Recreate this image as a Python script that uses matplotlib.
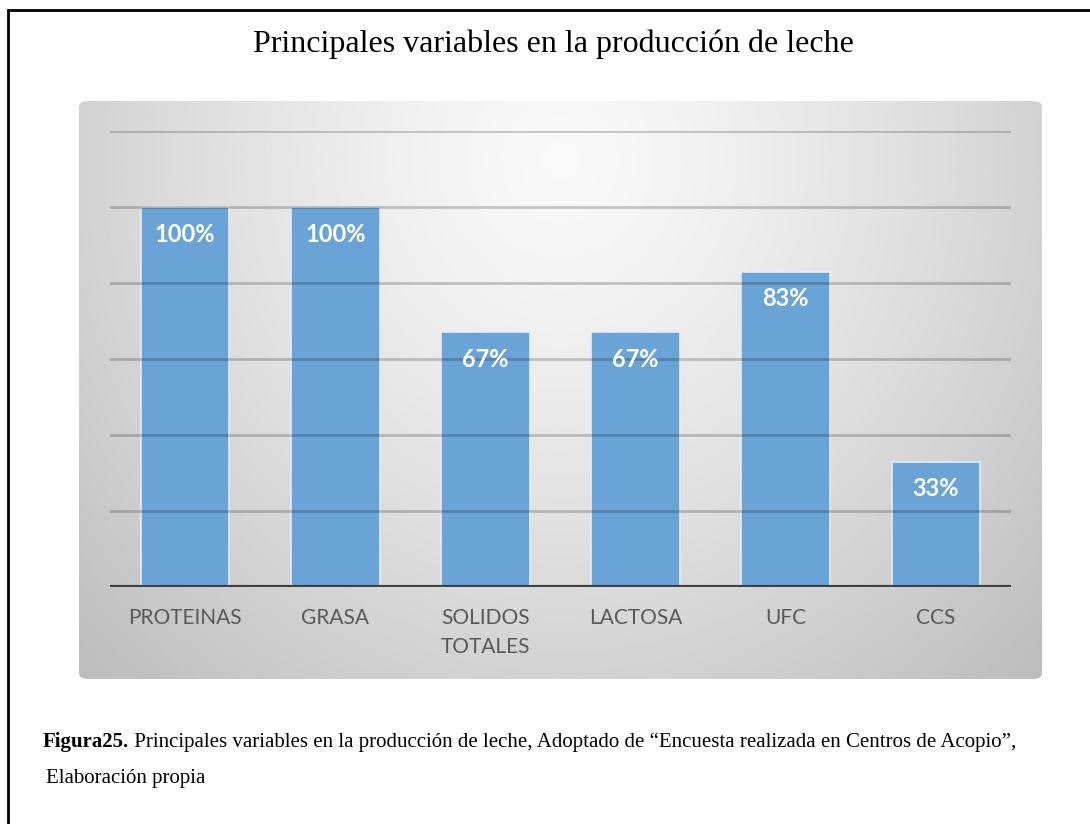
import numpy as np
import matplotlib.pyplot as plt
from matplotlib.patches import Rectangle, FancyBboxPatch

# Data
categories = ['PROTEINAS', 'GRASA', 'SOLIDOS\nTOTALES', 'LACTOSA', 'UFC', 'CCS']
values = [1.00, 1.00, 0.67, 0.67, 0.83, 0.33]
value_labels = ['100%', '100%', '67%', '67%', '83%', '33%']
grid_levels = [0.2, 0.4, 0.6, 0.8, 1.0, 1.2]

title = 'Principales variables en la producción de leche'
caption_bold = 'Figura25.'
caption_rest = (' Principales variables en la producción de leche, Adoptado de '
                '\u201cEncuesta realizada en Centros de Acopio\u201d,')
caption_line2 = 'Elaboración propia'

W, H = 1090, 824
fig = plt.figure(figsize=(W / 100, H / 100), dpi=100)
fig.patch.set_facecolor('white')


def fx(px):
    return px / W


def fy(py):
    return 1 - py / H


# outer frame (open to the right and bottom, like the cropped page)
fig.patches.append(Rectangle((fx(8), fy(900)), fx(1200), fy(10) - fy(900),
                             transform=fig.transFigure, fill=False,
                             edgecolor='black', linewidth=2))

# chart area with a radial grey gradient
bg_left, bg_right, bg_top, bg_bottom = 79, 1042, 101, 679
bg_ax = fig.add_axes([fx(bg_left), fy(bg_bottom), fx(bg_right - bg_left),
                      fy(bg_top) - fy(bg_bottom)])
bg_ax.set_axis_off()
gx, gy = np.meshgrid(np.linspace(0, 1, 400), np.linspace(0, 1, 300))
dist = np.sqrt(((gx - 0.5) / 0.5) ** 2 + ((gy - 0.1) / 0.9) ** 2) / np.sqrt(2)
shade = 0.975 - 0.24 * dist ** 1.3
im = bg_ax.imshow(shade, cmap='gray', vmin=0, vmax=1, aspect='auto',
                  extent=[0, 1, 1, 0])
box = FancyBboxPatch((0, 0), 1, 1, boxstyle='round,pad=0,rounding_size=0.01',
                     transform=bg_ax.transAxes, facecolor='none', edgecolor='none')
bg_ax.add_patch(box)
im.set_clip_path(box)

# plot area
ax = fig.add_axes([fx(110), fy(587), fx(1011 - 110), fy(131) - fy(587)])
ax.patch.set_alpha(0)
x = np.arange(len(categories))
bars = ax.bar(x, values, width=0.59, color='#6aa3d6', edgecolor='#e2eefa',
              linewidth=1.2, zorder=2)

for lvl in grid_levels:
    ax.axhline(lvl, color='black', alpha=0.2, linewidth=2, zorder=3)
ax.axhline(0, color='#404040', linewidth=3, zorder=4)

for b, lab in zip(bars, value_labels):
    ax.annotate(lab, (b.get_x() + b.get_width() / 2, b.get_height()),
                xytext=(0, -19.5), textcoords='offset points',
                ha='center', va='center', color='white', fontsize=17,
                fontweight='bold', family='Lato', zorder=5)

ax.set_xlim(-0.5, len(categories) - 0.5)
ax.set_ylim(0, 1.2)
ax.set_yticks([])
ax.set_xticks(x)
ax.set_xticklabels(categories, family='Lato', fontsize=15, color='#595959',
                   linespacing=1.55, va='top')
ax.tick_params(axis='x', length=0, pad=15)
for s in ax.spines.values():
    s.set_visible(False)

# title and caption
fig.text(fx(553), fy(52), title, ha='center', va='baseline',
         family='Liberation Serif', fontsize=23)

cap_size = 15
t1 = fig.text(fx(43), fy(747), caption_bold, ha='left', va='baseline',
              family='Liberation Serif', fontsize=cap_size, fontweight='bold')
fig.canvas.draw()
bb = t1.get_window_extent()
fig.text(bb.x1 / W, fy(747), caption_rest, ha='left', va='baseline',
         family='Liberation Serif', fontsize=cap_size)
fig.text(fx(46), fy(783), caption_line2, ha='left', va='baseline',
         family='Liberation Serif', fontsize=cap_size)

fig.savefig('out.png', dpi=100)
